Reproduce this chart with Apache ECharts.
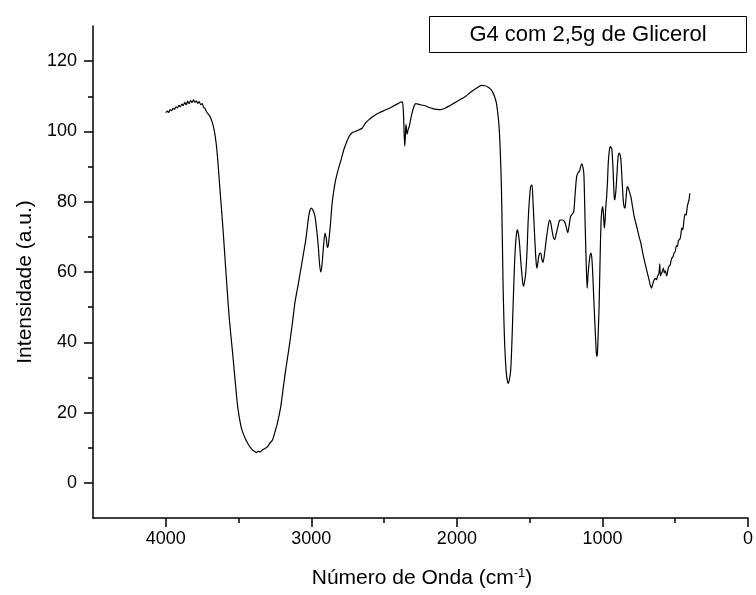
<!DOCTYPE html>
<html>
<head>
<meta charset="utf-8">
<script src="https://cdn.jsdelivr.net/npm/echarts@6/dist/echarts.min.js"></script>
<style>html,body{margin:0;padding:0;background:#fff;}#c{width:756px;height:595px;}</style>
</head>
<body>
<div id="c"></div>
<script>
var seriesName = 'G4 com 2,5g de Glicerol';
var xTitle = 'Número de Onda (cm';
var yTitle = 'Intensidade (a.u.)';
var xMajorTicks = [0, 1000, 2000, 3000, 4000];
var xMinorTicks = [500, 1500, 2500, 3500];
var yMajorTicks = [0, 20, 40, 60, 80, 100, 120];
var yMinorTicks = [10, 30, 50, 70, 90, 110];

var wavenumber = [4000,3990,3980,3970,3960,3950,3940,3930,3920,3910,3900,3890,3880,3870,3860,3850,3840,3830,3820,3810,3800,3790,3780,3770,3760,3750,3740,3730,3720,3705,3695,3680,3668,3655,3645,3635,3624,3610,3597,3580,3563,3542,3524,3506,3483,3466,3449,3432,3415,3400,3390,3376,3365,3350,3335,3318,3301,3285,3267,3250,3233,3210,3192,3175,3153,3130,3112,3090,3073,3055,3038,3020,3010,3000,2988,2975,2962,2952,2944,2936,2928,2918,2906,2897,2890,2884,2870,2857,2845,2833,2815,2799,2777,2760,2742,2720,2697,2675,2651,2630,2606,2580,2560,2530,2492,2450,2410,2389,2375,2368,2362,2358,2353,2350,2346,2342,2335,2327,2315,2305,2293,2282,2260,2240,2218,2190,2165,2138,2110,2081,2050,2013,1980,1944,1910,1876,1850,1831,1808,1785,1765,1751,1738,1728,1720,1712,1705,1700,1694,1688,1682,1676,1671,1662,1655,1648,1640,1630,1622,1614,1606,1598,1590,1584,1576,1568,1560,1552,1546,1541,1534,1527,1518,1511,1502,1493,1484,1477,1470,1461,1455,1450,1444,1438,1431,1424,1416,1409,1400,1386,1372,1363,1355,1347,1338,1329,1318,1306,1296,1288,1275,1261,1250,1238,1228,1219,1207,1197,1188,1177,1166,1158,1150,1142,1135,1128,1124,1119,1112,1105,1100,1094,1086,1078,1072,1067,1059,1051,1044,1040,1035,1030,1023,1017,1010,1004,998,993,987,982,977,971,965,960,953,946,940,935,928,922,918,913,907,900,893,885,879,873,865,857,851,845,838,832,827,816,805,793,782,770,759,748,736,725,713,702,691,680,673,668,663,655,645,635,628,622,612,606,602,599,590,581,575,568,558,552,545,535,525,515,508,500,492,485,478,470,463,455,448,440,432,425,417,410,405,400];
var intensity = [105.3,105.8,105.4,106.2,105.9,106.6,106.3,107.0,106.7,107.4,107.0,107.8,107.3,108.3,107.6,108.6,107.9,108.8,108.2,109.0,108.3,108.7,108.0,108.5,107.6,107.9,106.8,106.5,105.6,104.8,104.2,102.5,100.5,97,92.9,87.5,81.5,74,66.3,56,46.4,37.5,29.3,21.7,16.0,13.8,12.2,10.9,9.9,9.2,9.0,8.6,9.0,8.8,9.4,9.8,10.3,11.3,12.2,14.5,17.0,21.7,27.4,32.5,38.5,45.5,51.5,56.5,60.6,65,69.2,75.3,77.5,78.2,77.5,75.8,71.5,67.2,62.5,60.0,61.5,66.5,71.1,69.5,67.0,67.4,73,79.6,83.3,86.2,89.2,91.4,94.8,96.7,98.5,99.6,100.0,100.4,100.9,102.3,103.3,104.2,104.7,105.4,106.1,106.9,107.8,108.3,108.4,106,99,95.8,99.5,102,100.5,99.2,100.5,101.4,104,105.7,107.3,107.9,107.7,107.5,107.3,106.8,106.5,106.3,106.2,106.6,107.3,108.2,109.0,109.9,111.0,112.0,112.7,113.1,113.0,112.6,111.9,110.9,109.5,108.0,105.5,102.4,97.5,92,84,70,54.9,45,38.8,32,29.5,28.3,29.2,32.2,40,50.2,60,67.2,71,72,70.5,67.2,62.5,58.7,56.5,56.0,57.5,59.7,66,73.9,80.5,84.3,84.8,80,73.9,66.3,62.5,61.1,62.5,64.4,65.3,65.4,63.5,62.7,64.5,69.2,73.3,74.8,74,72,70,69.2,70.8,72.9,74.6,74.8,74.8,74.4,73,71.2,73.5,75.8,76.5,77.2,82,87.2,88.4,88.6,90,90.8,90,88.1,83,73.9,63,55.4,58.5,61.6,64.5,65.4,63.5,59.7,52,44.5,38.5,36.0,36.5,41.5,50.2,62,73.9,77.5,78.6,76.5,72.5,74.5,78.5,81.5,86,91,94.5,95.7,95.4,94.8,90,84,80.5,81,83.4,88,92.5,93.8,93.4,91.9,86,80.5,78.5,78.2,81,83.8,84.3,83,81.5,78.5,75.8,73.8,72,70,68.2,65.8,63.5,61.5,59.7,57.8,56.5,55.9,55.4,56.5,57.8,58.1,57.8,58.7,59.6,62.3,58.9,59.2,60.0,61.1,59.8,60.3,58.9,60.2,61.5,62.0,63.8,64.4,65.4,65.8,67.5,67.2,69.0,69.2,70.1,72.5,72.0,74.8,76.5,76.2,78.6,79.8,80.5,82.4];

var data = wavenumber.map(function (w, i) { return [w, intensity[i]]; });
var FONT = "'Liberation Sans', Arial, sans-serif";
var plain = function (v) { return String(v); };

function tickAxis(base, values, len) {
  return Object.assign({}, base, {
    axisLine: {show: false, onZero: false},
    axisTick: {show: true, inside: false, length: len, lineStyle: {color: '#000', width: 1.5}, customValues: values},
    axisLabel: {show: false},
    splitLine: {show: false}
  });
}
var xBase = {type: 'value', min: 0, max: 4500, inverse: true, position: 'bottom'};
var yBase = {type: 'value', min: -10, max: 130, position: 'left'};

var chart = echarts.init(document.getElementById('c'), null, {renderer: 'canvas'});
chart.setOption({
  animation: false,
  backgroundColor: '#fff',
  grid: {left: 93, right: 5, top: 26, bottom: 77, containLabel: false},
  xAxis: [
    Object.assign({}, xBase, {
      axisLine: {show: true, onZero: false, lineStyle: {color: '#000', width: 1.5}},
      axisTick: {show: false},
      axisLabel: {color: '#000', fontSize: 18, fontFamily: FONT, margin: 12, customValues: xMajorTicks, formatter: plain},
      splitLine: {show: false}
    }),
    tickAxis(xBase, xMajorTicks, 9),
    tickAxis(xBase, xMinorTicks, 5)
  ],
  yAxis: [
    Object.assign({}, yBase, {
      axisLine: {show: true, onZero: false, lineStyle: {color: '#000', width: 1.5}},
      axisTick: {show: false},
      axisLabel: {color: '#000', fontSize: 18, fontFamily: FONT, margin: 16, customValues: yMajorTicks, formatter: plain},
      splitLine: {show: false}
    }),
    tickAxis(yBase, yMajorTicks, 9),
    tickAxis(yBase, yMinorTicks, 5)
  ],
  series: [{
    name: seriesName,
    type: 'line',
    xAxisIndex: 0, yAxisIndex: 0,
    data: data,
    showSymbol: false,
    smooth: 0.25,
    lineStyle: {color: '#000', width: 1.2},
    itemStyle: {color: '#000'}
  }],
  graphic: [
    {type: 'rect', shape: {x: 429.5, y: 16.5, width: 317, height: 36}, style: {fill: '#fff', stroke: '#000', lineWidth: 1}, z: 10},
    {type: 'text', x: 588, y: 34.5, z: 11, style: {text: seriesName, fontSize: 22, fontFamily: FONT, fill: '#000', align: 'center', verticalAlign: 'middle'}},
    {type: 'text', x: 422, y: 578, style: {text: xTitle + '{sup|-1})', rich: {sup: {fontSize: 13, fontFamily: FONT, fill: '#000', verticalAlign: 'top', padding: [0, 0, 10, 0]}}, fontSize: 21, fontFamily: FONT, fill: '#000', align: 'center', verticalAlign: 'middle'}},
    {type: 'text', x: 25, y: 282, rotation: Math.PI / 2, style: {text: yTitle, fontSize: 21, fontFamily: FONT, fill: '#000', align: 'center', verticalAlign: 'middle'}}
  ]
});
</script>
</body>
</html>
